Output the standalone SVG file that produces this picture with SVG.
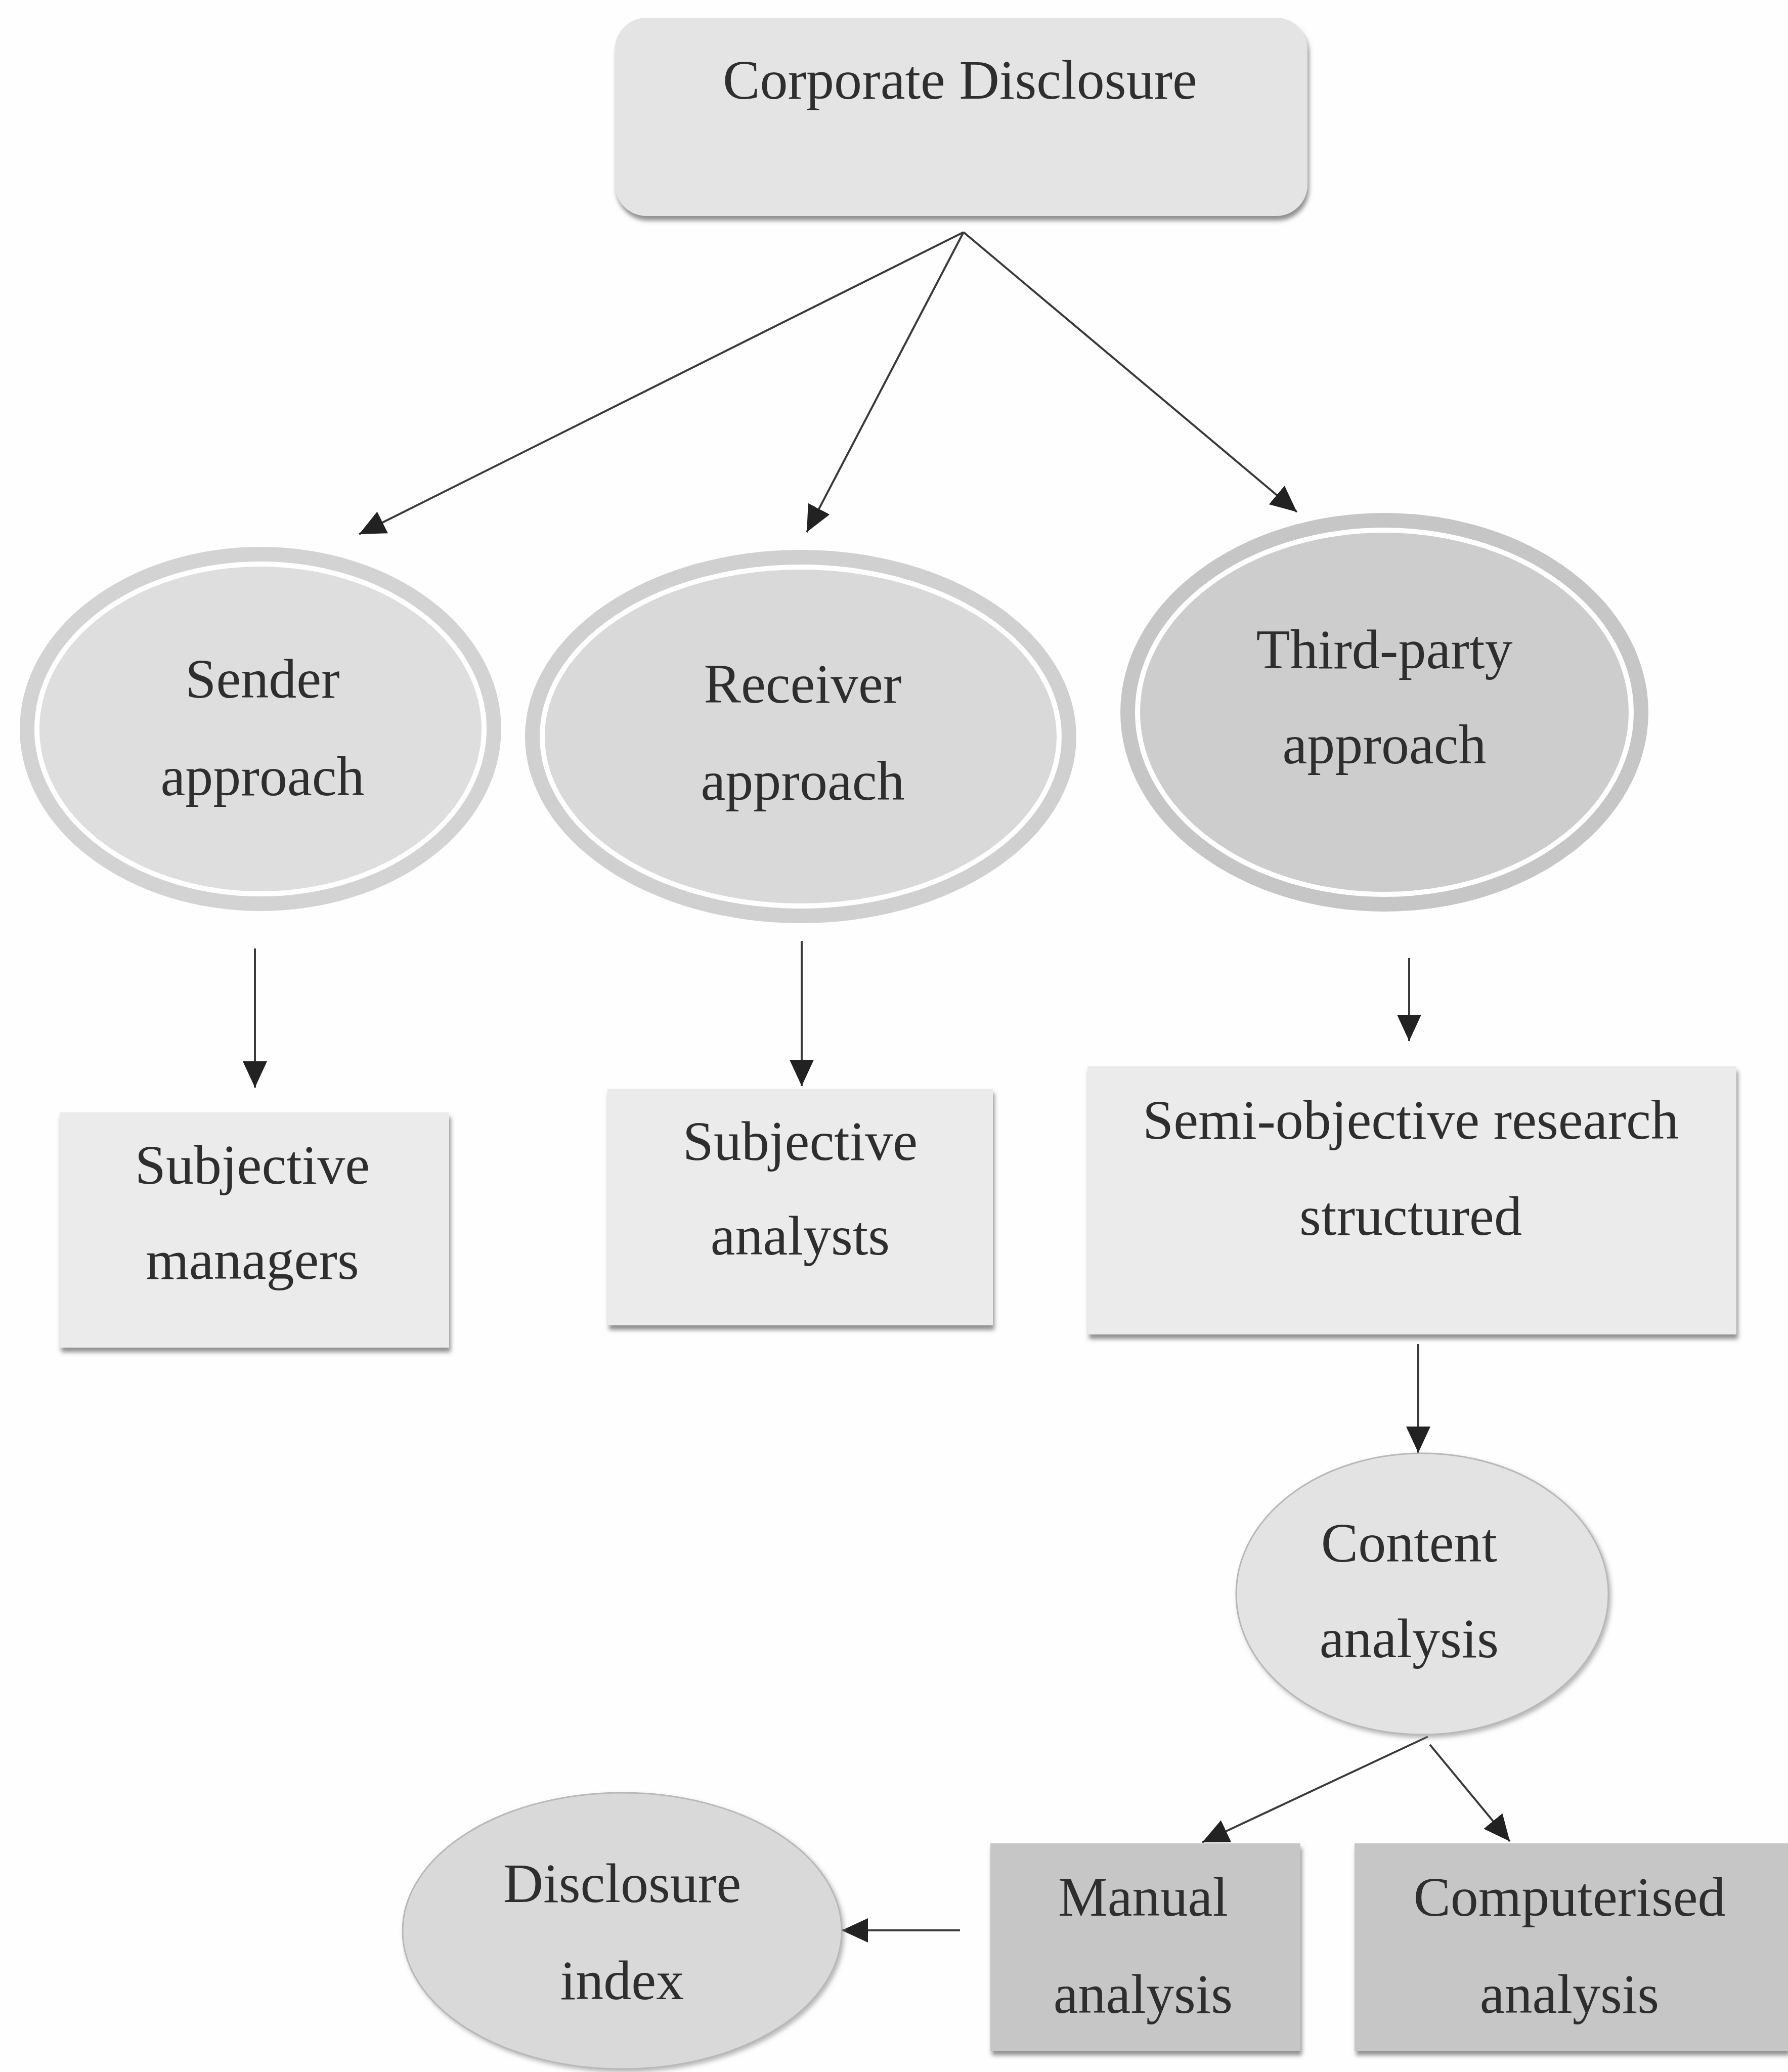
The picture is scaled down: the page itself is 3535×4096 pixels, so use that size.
<svg xmlns="http://www.w3.org/2000/svg" width="3535" height="4096" viewBox="0 0 3535 4096">
<defs>
<style>
.t{font-family:"Liberation Serif","Times New Roman",serif;font-size:110px;fill:#2e2e2e;text-anchor:middle}
.c{stroke:#3a3a3a;stroke-width:4;fill:none}
.lbox{fill:#ebebeb;filter:url(#sh)}
.dbox{fill:#c6c6c6;filter:url(#sh)}
.ring{fill:none;stroke:#ffffff;stroke-width:10}
.oval{stroke:#b8b8b8;stroke-width:3;filter:url(#sh2)}
</style>
<filter id="sh" x="-5%" y="-5%" width="112%" height="115%">
<feDropShadow dx="3" dy="9" stdDeviation="4" flood-color="#6a6a6a" flood-opacity="0.75"/>
</filter>
<filter id="sh2" x="-5%" y="-5%" width="112%" height="115%">
<feDropShadow dx="4" dy="5" stdDeviation="4" flood-color="#8a8a8a" flood-opacity="0.6"/>
</filter>
<marker id="ah" markerUnits="userSpaceOnUse" markerWidth="54" markerHeight="50" refX="52" refY="24" orient="auto">
<path d="M0,0 L52,24 L0,48 z" fill="#222"/>
</marker>
</defs>
<rect width="3535" height="4096" fill="#fefefe"/>

<g id="connectors">
<line class="c" x1="1905" y1="459" x2="710" y2="1056" marker-end="url(#ah)"/>
<line class="c" x1="1905" y1="459" x2="1595" y2="1052" marker-end="url(#ah)"/>
<line class="c" x1="1905" y1="459" x2="2564" y2="1012" marker-end="url(#ah)"/>
<line class="c" x1="504" y1="1875" x2="504" y2="2150" marker-end="url(#ah)"/>
<line class="c" x1="1585" y1="1860" x2="1585" y2="2147" marker-end="url(#ah)"/>
<line class="c" x1="2786" y1="1894" x2="2786" y2="2058" marker-end="url(#ah)"/>
<line class="c" x1="2804" y1="2657" x2="2804" y2="2872" marker-end="url(#ah)"/>
<line class="c" x1="2823" y1="3433" x2="2377" y2="3642" marker-end="url(#ah)"/>
<line class="c" x1="2827" y1="3449" x2="2985" y2="3640" marker-end="url(#ah)"/>
<line class="c" x1="1898" y1="3816" x2="1664" y2="3816" marker-end="url(#ah)"/>
</g>

<g id="corporate-disclosure">
<rect x="1216" y="35" width="1369" height="392" rx="62" fill="#e4e4e4" filter="url(#sh)"/>
<text class="t" x="1898" y="195">Corporate Disclosure</text>
</g>

<g id="sender-approach">
<ellipse cx="515" cy="1441" rx="476" ry="360" fill="#d3d3d3"/>
<ellipse cx="515" cy="1441" rx="442" ry="326" fill="#dedede"/>
<ellipse class="ring" cx="515" cy="1441" rx="442" ry="326"/>
<text class="t" x="519" y="1379">Sender</text>
<text class="t" x="519" y="1572">approach</text>
</g>

<g id="receiver-approach">
<ellipse cx="1583" cy="1456" rx="545" ry="369" fill="#d0d0d0"/>
<ellipse cx="1583" cy="1456" rx="511" ry="335" fill="#d9d9d9"/>
<ellipse class="ring" cx="1583" cy="1456" rx="511" ry="335"/>
<text class="t" x="1587" y="1389">Receiver</text>
<text class="t" x="1587" y="1581">approach</text>
</g>

<g id="third-party-approach">
<ellipse cx="2737" cy="1408" rx="522" ry="394" fill="#c6c6c6"/>
<ellipse cx="2737" cy="1408" rx="488" ry="360" fill="#cdcdcd"/>
<ellipse class="ring" cx="2737" cy="1408" rx="488" ry="360"/>
<text class="t" x="2737" y="1321">Third-party</text>
<text class="t" x="2737" y="1509">approach</text>
</g>

<g id="subjective-managers">
<rect class="lbox" x="118" y="2199" width="770" height="465"/>
<text class="t" x="499" y="2340">Subjective</text>
<text class="t" x="499" y="2528">managers</text>
</g>

<g id="subjective-analysts">
<rect class="lbox" x="1201" y="2152" width="762" height="468"/>
<text class="t" x="1582" y="2293">Subjective</text>
<text class="t" x="1582" y="2480">analysts</text>
</g>

<g id="semi-objective">
<rect class="lbox" x="2150" y="2108" width="1283" height="530"/>
<text class="t" x="2789" y="2251">Semi-objective research</text>
<text class="t" x="2789" y="2441">structured</text>
</g>

<g id="content-analysis">
<ellipse class="oval" cx="2812" cy="3151" rx="368" ry="278" fill="#e3e3e3"/>
<text class="t" x="2786" y="3087">Content</text>
<text class="t" x="2786" y="3276">analysis</text>
</g>

<g id="manual-analysis">
<rect class="dbox" x="1958" y="3644" width="613" height="410"/>
<text class="t" x="2260" y="3787">Manual</text>
<text class="t" x="2260" y="3979">analysis</text>
</g>

<g id="computerised-analysis">
<rect class="dbox" x="2678" y="3644" width="857" height="410"/>
<text class="t" x="3103" y="3787">Computerised</text>
<text class="t" x="3103" y="3979">analysis</text>
</g>

<g id="disclosure-index">
<ellipse class="oval" cx="1230" cy="3817" rx="434" ry="273" fill="#d9d9d9"/>
<text class="t" x="1230" y="3760">Disclosure</text>
<text class="t" x="1230" y="3952">index</text>
</g>
</svg>
